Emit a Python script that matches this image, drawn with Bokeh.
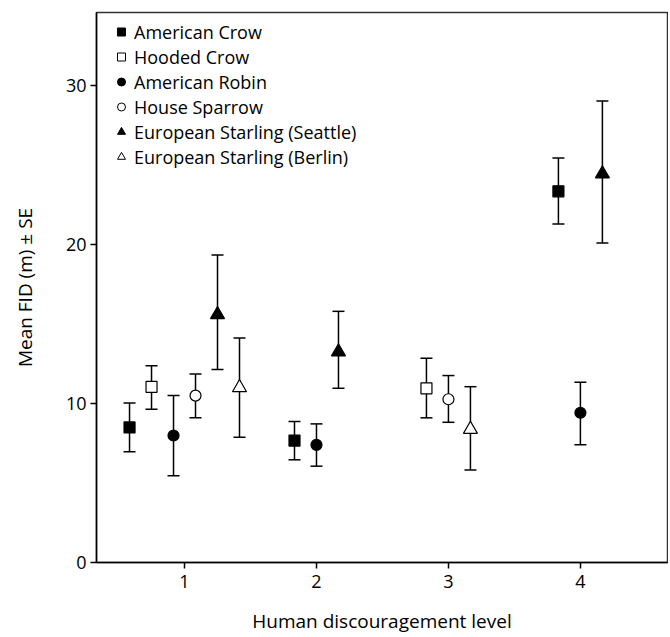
from bokeh.plotting import figure
from bokeh.models import ColumnDataSource, Whisker, TeeHead, Legend, LegendItem, Range1d, FixedTicker
from bokeh.embed import file_html
from bokeh.resources import INLINE

# ---- data ----
series_names = ["American Crow", "Hooded Crow", "American Robin", "House Sparrow",
                "European Starling (Seattle)", "European Starling (Berlin)"]
crow_levels = [1, 2, 4]
crow_mean = [8.5, 7.67, 23.35]
crow_low = [6.96, 6.46, 21.3]
crow_high = [10.04, 8.87, 25.45]

hooded_levels = [1, 3]
hooded_mean = [11.05, 10.96]
hooded_low = [9.64, 9.1]
hooded_high = [12.37, 12.85]

robin_levels = [1, 2, 4]
robin_mean = [7.99, 7.4, 9.42]
robin_low = [5.45, 6.06, 7.4]
robin_high = [10.5, 8.72, 11.34]

sparrow_levels = [1, 3]
sparrow_mean = [10.5, 10.27]
sparrow_low = [9.1, 8.82]
sparrow_high = [11.86, 11.76]

seattle_levels = [1, 2, 4]
seattle_mean = [15.6, 13.25, 24.45]
seattle_low = [12.14, 10.96, 20.1]
seattle_high = [19.35, 15.8, 29.04]

berlin_levels = [1, 3]
berlin_mean = [11.0, 8.38]
berlin_low = [7.88, 5.82]
berlin_high = [14.13, 11.06]

x_ticks = [1, 2, 3, 4]
y_ticks = [0, 10, 20, 30]

series = [
    (crow_levels, crow_mean, crow_low, crow_high, "square", "black", 11, 9),
    (hooded_levels, hooded_mean, hooded_low, hooded_high, "square", "white", 11, 9),
    (robin_levels, robin_mean, robin_low, robin_high, "circle", "black", 11, 9),
    (sparrow_levels, sparrow_mean, sparrow_low, sparrow_high, "circle", "white", 11, 9),
    (seattle_levels, seattle_mean, seattle_low, seattle_high, "triangle", "black", 14, 12),
    (berlin_levels, berlin_mean, berlin_low, berlin_high, "triangle", "white", 14, 12),
]

# dodge: series present at each level are spread evenly around the level
slot = 1.0 / 6
present = {}
for si, s in enumerate(series):
    for lv in s[0]:
        present.setdefault(lv, []).append(si)

FONT = "Open Sans"
p = figure(width=668, height=636, output_backend="svg", toolbar_location=None,
           x_range=Range1d(0.333, 4.66), y_range=Range1d(0, 34.6),
           min_border_left=96, min_border_top=12, min_border_right=1, min_border_bottom=74)
p.background_fill_color = "white"
p.border_fill_color = "white"
p.xgrid.visible = False
p.ygrid.visible = False
p.outline_line_color = "#333333"
p.outline_line_width = 1.5

items = []
for si, (lv, mean, lo, hi, marker, fill, size, lsize) in enumerate(series):
    xs = []
    for l in lv:
        idx = present[l].index(si)
        n = len(present[l])
        xs.append(l + (idx - (n - 1) / 2) * slot)
    src = ColumnDataSource(dict(x=xs, y=mean, lo=lo, hi=hi))
    w = Whisker(source=src, base="x", lower="lo", upper="hi", dimension="height",
                line_color="black", line_width=1.5,
                upper_head=TeeHead(size=12, line_color="black", line_width=1.5),
                lower_head=TeeHead(size=12, line_color="black", line_width=1.5))
    p.add_layout(w)
    p.scatter("x", "y", source=src, marker=marker, size=size,
              fill_color=fill, line_color="black", line_width=1.2)
    # legend-key renderer: same data, hidden in the plot, smaller key marker
    lr = p.scatter("x", "y", source=src, marker=marker, size=lsize,
                   fill_color=fill, line_color="black", line_width=1.0, visible=False)
    items.append(LegendItem(label=series_names[si], renderers=[lr]))

legend = Legend(items=items, location=(15, 393), border_line_color=None,
                background_fill_alpha=0, margin=0, padding=0, spacing=0,
                glyph_width=20, glyph_height=25, label_height=25, label_standoff=3,
                label_text_font=FONT, label_text_font_size="18px", label_text_color="black")
p.add_layout(legend)

for ax in (p.xaxis[0], p.yaxis[0]):
    ax.axis_line_color = "black"
    ax.axis_line_width = 1.5
    ax.major_tick_line_color = "black"
    ax.major_tick_line_width = 1.5
    ax.major_tick_in = 0
    ax.major_tick_out = 6
    ax.minor_tick_line_color = None
    ax.major_label_text_font = FONT
    ax.major_label_text_font_size = "18px"
    ax.major_label_text_color = "black"
    ax.axis_label_text_font = FONT
    ax.axis_label_text_font_size = "19px"
    ax.axis_label_text_font_style = "normal"
    ax.axis_label_text_color = "black"

p.xaxis.ticker = FixedTicker(ticks=x_ticks)
p.yaxis.ticker = FixedTicker(ticks=y_ticks)
p.xaxis.axis_label = "Human discouragement level"
p.yaxis.axis_label = "Mean FID (m) ± SE"
p.xaxis.axis_label_standoff = 17
p.yaxis.axis_label_standoff = 25
p.xaxis.major_label_standoff = 6
p.yaxis.major_label_standoff = 4

open("out.html", "w").write(file_html(p, INLINE))
